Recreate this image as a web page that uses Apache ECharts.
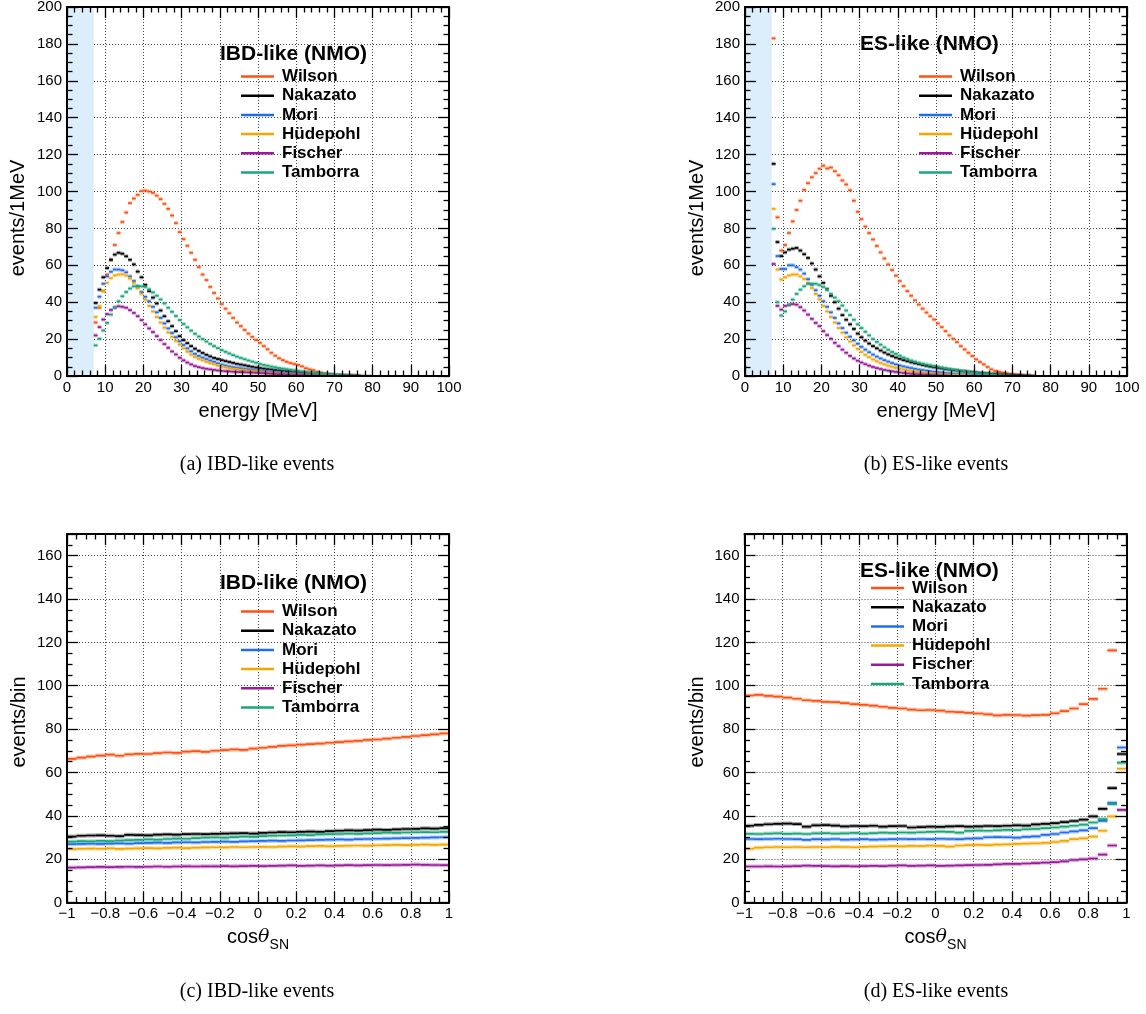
<!DOCTYPE html>
<html>
<head>
<meta charset="utf-8">
<title>SN event spectra</title>
<script src="https://cdn.jsdelivr.net/npm/echarts@6.0.0/dist/echarts.min.js"></script>
<style>
  html, body { margin: 0; padding: 0; background: #fff; }
  #main { width: 1146px; height: 1014px; }
</style>
</head>
<body>
<div id="main"></div>
<script>
const models = ['Wilson', 'Nakazato', 'Mori', 'Hüdepohl', 'Fischer', 'Tamborra'];
const modelColors = ['#ff5212', '#000000', '#1f6cf0', '#f5a700', '#9a1a9a', '#19a67a'];

// energy histograms: 1 MeV bins, first bin is 7-8 MeV
const energyFirstBin = 7;
const energyBinWidth = 1;
// direction histograms: 40 bins of 0.05 from -1 to 1
const cosFirstBin = -1;
const cosBinWidth = 0.05;

// (a) IBD-like, events/1MeV
const ibdEWilson = [29, 37, 46, 55, 63, 71, 77.5, 83.5, 88.6, 93.7,
  96.2, 98.2, 100.2, 100.5, 100, 99.3, 97.8, 95.9, 93.3, 90.6,
  87, 82.9, 78, 74.2, 70.6, 66.8, 63, 59, 55, 52,
  48.3, 45, 42, 39, 36.5, 34, 31.5, 29, 27, 25,
  23, 21.2, 19.5, 18, 16.2, 14.5, 12.6, 11, 9.6, 8.6,
  7.7, 7, 6.5, 6, 5.2, 4.2, 3.6, 3.1, 2.3, 1.8,
  1.3, 1.0, 0.7, 0.4, 0.3, 0.2, 0.1, 0.1, 0, 0, 0.1, 0, 0];
const ibdENakazato = [39.6, 46.8, 53.5, 58.5, 63, 65.8, 66.8, 66.3, 64.9, 63,
  60.5, 56.6, 53.5, 49.4, 46, 42.5, 39.3, 35.5, 32.4, 29.7,
  27, 24.3, 21.6, 19.5, 17.8, 16.2, 14.8, 13.6, 12.5, 11.5,
  10.6, 9.8, 9.2, 8.6, 8.1, 7.6, 7.1, 6.6, 6.2, 5.8,
  5.4, 5.0, 4.6, 4.3, 4.0, 3.7, 3.5, 3.2, 3.0, 2.8,
  2.6, 2.4, 2.2, 2.0, 1.8, 1.7, 1.5, 1.3, 1.2, 1.1,
  0.9, 0.8, 0.7, 0.6, 0.5, 0.4, 0.3, 0.3, 0.2, 0.1];
const ibdEMori = [37, 43, 50, 54, 56.5, 57.7, 57.7, 57.3, 56.2, 54,
  51.5, 48.5, 45.5, 42.9, 40.5, 37.5, 34.5, 31.5, 28.5, 25.8,
  23.3, 21, 18.8, 16.8, 15, 13.4, 12, 10.9, 10, 9.2,
  8.4, 7.7, 6.9, 6.2, 5.7, 5.2, 4.8, 4.5, 4.2, 3.9,
  3.7, 3.5, 3.2, 3.0, 2.8, 2.6, 2.4, 2.2, 2.0, 1.9,
  1.7, 1.6, 1.4, 1.3, 1.2, 1.1, 1.0, 0.9, 0.8, 0.7,
  0.6, 0.5, 0.4, 0.3, 0.2, 0.1];
const ibdEHuedepohl = [32, 37.8, 46, 50.5, 53, 54.5, 55, 55.1, 54.4, 52.8,
  50.5, 47.5, 44.5, 41.3, 38, 35, 32, 29, 26.2, 23.6,
  21.2, 19, 17, 15, 13.2, 11.6, 10.3, 9.3, 8.5, 7.7,
  7.0, 6.3, 5.6, 5.0, 4.6, 4.2, 3.9, 3.6, 3.3, 3.1,
  2.9, 2.8, 2.6, 2.3, 2.1, 1.9, 1.8, 1.6, 1.4, 1.3,
  1.1, 1.0, 0.9, 0.8, 0.7, 0.6, 0.5, 0.4, 0.4, 0.3,
  0.2, 0.2, 0.1, 0.1];
const ibdEFischer = [22, 26.5, 30.6, 33.5, 35.8, 37.2, 37.8, 37.5, 37, 35.7,
  34.2, 32.4, 30.3, 28, 25.8, 23.8, 21.6, 19.5, 17.3, 15.3,
  13.3, 11.7, 9.9, 8.5, 7.3, 6.3, 5.4, 4.8, 4.3, 3.9,
  3.6, 3.3, 3.0, 2.8, 2.6, 2.5, 2.3, 2.2, 2.1, 2.0,
  1.9, 1.8, 1.7, 1.6, 1.5, 1.3, 1.2, 1.1, 1.0, 0.9,
  0.8, 0.7, 0.6, 0.6, 0.5, 0.4, 0.4, 0.3, 0.3, 0.2,
  0.2, 0.1, 0.1];
const ibdETamborra = [16.6, 20.2, 24.7, 28.8, 33.3, 37, 40.5, 43.2, 45.5, 47.4,
  48.6, 48.8, 48.6, 48.3, 47, 45.3, 43.5, 41.5, 39.3, 37,
  34.8, 32.5, 30.3, 28.2, 26.4, 24.6, 22.9, 21.4, 20, 18.7,
  17.4, 16.2, 15.1, 14, 13.1, 12.2, 11.3, 10.5, 9.8, 9.1,
  8.4, 7.8, 7.2, 6.5, 6, 5.6, 5.1, 4.7, 4.3, 4.0,
  3.7, 3.4, 3.1, 2.8, 2.5, 2.3, 2.0, 1.8, 1.6, 1.3,
  1.1, 0.9, 0.7, 0.6, 0.4, 0.3, 0.2, 0.1, 0.1, 0];

// (b) ES-like, events/1MeV
const esEWilson = [183, 86, 68, 71, 77.5, 83.8, 90, 95, 100.9, 104.5,
  107.7, 110, 112.4, 114, 112.5, 113, 111, 108.8, 106, 103.8,
  100.7, 95, 89, 85, 81, 77.5, 74, 70.5, 67, 63.7,
  60.5, 57.4, 54.4, 51.5, 48.7, 46, 43.5, 41, 38.7, 36.5,
  34.4, 32.4, 30.6, 28.5, 26.5, 24.3, 22, 20.2, 18.4, 16.2,
  14.4, 12.6, 10.8, 9, 7.6, 6.3, 4.9, 3.6, 2.7, 2.3,
  1.8, 1.4, 1.1, 0.8, 0.5, 0.3, 0.2, 0.1];
const esENakazato = [115, 72.6, 65, 67, 68.5, 69, 69.4, 68, 66, 64,
  61, 57.7, 54, 50.5, 47, 43.5, 40, 36.5, 33, 30.5,
  28, 25.5, 23, 21, 19.2, 17.6, 16.2, 15, 13.8, 12.7,
  11.7, 10.8, 10, 9.3, 8.6, 8, 7.4, 6.9, 6.4, 5.9,
  5.5, 5.1, 4.7, 4.4, 4.1, 3.8, 3.5, 3.2, 3.0, 2.7,
  2.5, 2.3, 2.1, 1.9, 1.7, 1.5, 1.4, 1.2, 1.1, 0.9,
  0.8, 0.7, 0.6, 0.5, 0.4, 0.3, 0.2, 0.2, 0.1];
const esEMori = [104, 65, 58, 58, 60, 60, 59, 57.7, 55.5, 52.5,
  49.5, 46.5, 43.5, 40.5, 37.5, 34.5, 31.5, 28.5, 26, 23.5,
  21.3, 19.3, 17.5, 15.8, 14.3, 12.9, 11.6, 10.5, 9.5, 8.6,
  7.8, 7, 6.3, 5.7, 5.2, 4.7, 4.3, 3.9, 3.5, 3.2,
  2.9, 2.6, 2.3, 2.1, 1.9, 1.7, 1.5, 1.3, 1.1, 1,
  0.9, 0.8, 0.7, 0.6, 0.5, 0.4, 0.3, 0.2, 0.1];
const esEHuedepohl = [90.6, 57.7, 52.3, 53.5, 54.5, 55, 55, 54, 52.6, 50.5,
  47.7, 44.5, 41.5, 38, 35, 32, 29, 26, 23.5, 21,
  18.7, 16.6, 14.7, 13, 11.5, 10.2, 9, 8, 7.1, 6.3,
  5.6, 5, 4.4, 3.9, 3.5, 3.1, 2.7, 2.4, 2.1, 1.8,
  1.6, 1.4, 1.2, 1, 0.9, 0.8, 0.7, 0.6, 0.5, 0.4,
  0.3, 0.2, 0.1];
const esEFischer = [60.7, 38, 36, 38, 38.5, 39, 38.7, 37.3, 35.5, 33.3,
  31, 28.8, 27, 24.3, 22.2, 20.2, 18, 16.2, 14.3, 12.6,
  10.9, 9.5, 8.3, 7.3, 6.4, 5.6, 4.9, 4.3, 3.8, 3.3,
  2.9, 2.5, 2.2, 1.9, 1.6, 1.4, 1.2, 1.0, 0.9, 0.8,
  0.7, 0.6, 0.5, 0.4, 0.3, 0.2, 0.1];
const esETamborra = [79.8, 40, 32.8, 35, 38.7, 41.4, 44.5, 46.8, 48.6, 49.9,
  50, 50, 49.3, 48.3, 46.8, 44.5, 42.5, 40.5, 38.2, 35.5,
  33, 30.5, 28, 26, 24, 22, 20, 18.5, 17, 15.5,
  14.2, 13, 12, 11, 10, 9.2, 8.4, 7.8, 7.2, 6.7,
  6.2, 5.8, 5.4, 5, 4.6, 4.2, 3.8, 3.5, 3.2, 2.9,
  2.6, 2.3, 2.0, 1.7, 1.5, 1.3, 1.1, 0.9, 0.7, 0.5,
  0.4, 0.3, 0.2, 0.1];

// (c) IBD-like, events/bin vs cos(theta_SN)
const ibdCWilson = [66.3, 66.8, 67.3, 67.8, 68.2, 67.7, 68.3, 68.6, 68.5, 68.9,
  69.2, 69.0, 69.6, 69.8, 69.5, 70.0, 70.3, 70.6, 70.4, 71.0,
  71.4, 71.8, 72.3, 72.5, 72.8, 73.1, 73.3, 73.7, 74.0, 74.3,
  74.6, 75.0, 75.2, 75.6, 76.0, 76.4, 76.8, 77.2, 77.6, 78.0];
const ibdCNakazato = [30.4, 30.8, 30.9, 31.0, 30.8, 30.6, 31.2, 31.1, 31.0, 31.3,
  31.4, 31.3, 31.5, 31.6, 31.5, 31.7, 31.8, 31.9, 32.0, 31.8,
  32.1, 32.3, 32.5, 32.4, 32.6, 32.7, 32.6, 32.9, 33.1, 33.3,
  33.2, 33.4, 33.6, 33.5, 33.7, 33.9, 34.0, 34.2, 34.1, 34.3];
const ibdCMori = [26.9, 27.0, 27.1, 27.0, 27.2, 27.3, 27.2, 27.4, 27.5, 27.6,
  27.5, 27.7, 27.8, 27.7, 27.9, 28.0, 28.1, 28.0, 28.2, 28.3,
  28.4, 28.5, 28.4, 28.6, 28.7, 28.8, 28.9, 29.0, 29.1, 29.0,
  29.2, 29.3, 29.4, 29.5, 29.6, 29.7, 29.8, 29.9, 30.0, 30.1];
const ibdCHuedepohl = [24.6, 24.8, 24.9, 24.8, 25.0, 24.7, 24.9, 25.0, 25.1, 25.0,
  25.2, 25.3, 25.1, 25.3, 25.4, 25.5, 25.4, 25.6, 25.5, 25.6,
  25.7, 25.6, 25.8, 25.9, 25.8, 26.0, 26.1, 25.9, 26.1, 26.2,
  26.3, 26.2, 26.4, 26.5, 26.6, 26.5, 26.6, 26.7, 26.6, 26.7];
const ibdCFischer = [16.1, 16.2, 16.3, 16.4, 16.3, 16.4, 16.5, 16.4, 16.5, 16.6,
  16.5, 16.6, 16.7, 16.6, 16.7, 16.7, 16.8, 16.7, 16.8, 16.9,
  16.8, 16.9, 17.0, 17.1, 16.9, 17.0, 17.1, 17.0, 17.1, 17.2,
  17.1, 17.2, 17.3, 17.2, 17.3, 17.4, 17.5, 17.4, 17.3, 17.2];
const ibdCTamborra = [28.1, 28.3, 28.2, 28.4, 28.3, 28.6, 28.8, 28.9, 29.1, 29.0,
  29.3, 29.5, 29.4, 29.7, 29.9, 30.0, 29.9, 30.2, 30.4, 30.3,
  30.6, 30.8, 30.9, 31.0, 31.2, 31.1, 31.4, 31.5, 31.6, 31.8,
  31.7, 31.9, 32.0, 32.2, 32.1, 32.3, 32.4, 32.5, 32.4, 32.6];

// (d) ES-like, events/bin vs cos(theta_SN)
const esCWilson = [95.5, 95.8, 95.3, 95.0, 94.5, 94.0, 93.3, 93.0, 92.6, 92.4,
  92.0, 91.5, 91.2, 90.8, 90.3, 89.8, 89.5, 89.0, 88.7, 88.8,
  88.5, 88.0, 87.8, 87.5, 87.2, 86.8, 86.3, 86.6, 86.5, 86.2,
  86.4, 86.6, 87.3, 88.3, 89.5, 91.5, 93.9, 98.6, 116.3, 190];
const esCNakazato = [35.4, 35.8, 36.1, 36.3, 36.4, 36.2, 35.0, 35.6, 35.7, 35.5,
  35.1, 35.3, 35.2, 35.4, 35.0, 35.2, 35.3, 34.6, 34.8, 35.0,
  34.9, 35.1, 35.2, 35.0, 35.1, 35.3, 35.2, 35.4, 35.6, 35.5,
  36.0, 36.3, 36.6, 37.1, 37.6, 38.2, 39.7, 43.2, 52.8, 68.5];
const esCMori = [29.3, 29.2, 29.3, 29.4, 29.3, 29.2, 28.9, 29.2, 29.1, 29.3,
  29.0, 29.1, 29.2, 29.0, 29.1, 29.2, 29.3, 29.2, 29.3, 29.2,
  29.4, 29.3, 29.2, 29.5, 29.6, 30.1, 30.2, 30.1, 29.9, 30.3,
  30.5, 31.2, 31.6, 32.3, 32.8, 33.3, 34.3, 37.7, 46, 71.5];
const esCHuedepohl = [24.8, 25.3, 25.5, 25.6, 25.5, 25.6, 25.5, 25.6, 25.5, 25.7,
  25.6, 25.5, 25.7, 25.8, 25.9, 26.0, 25.9, 26.1, 26.0, 26.2,
  26.1, 25.8, 26.3, 26.5, 26.6, 26.5, 26.7, 26.8, 27.0, 27.2,
  27.3, 27.5, 27.9, 28.4, 29.2, 29.6, 30.4, 33.1, 39.7, 61.7];
const esCFischer = [16.6, 16.6, 16.7, 16.6, 16.7, 16.8, 17.0, 16.9, 16.8, 16.7,
  16.8, 16.7, 16.8, 16.9, 16.8, 17.0, 17.1, 16.9, 17.0, 17.1,
  16.9, 17.0, 17.1, 17.2, 17.3, 17.4, 17.6, 17.8, 17.8, 18.0,
  18.2, 18.4, 18.6, 19.0, 19.6, 19.9, 20.3, 22.1, 26.3, 42.7];
const esCTamborra = [31.7, 31.6, 31.8, 31.9, 31.7, 31.8, 31.6, 31.9, 32.0, 31.8,
  31.9, 32.1, 31.8, 32.0, 32.2, 32.1, 32.3, 32.2, 32.4, 32.6,
  32.7, 32.6, 32.2, 33.0, 33.2, 33.1, 33.3, 33.5, 33.4, 33.8,
  34.0, 34.3, 34.6, 35.0, 35.4, 35.9, 36.9, 38.5, 45.4, 64.5];

const sans = '"Liberation Sans", Arial, Helvetica, sans-serif';
const serif = '"Liberation Serif", "Times New Roman", serif';

const frameLine = { color: '#000', width: 2 };
const tickLine = { color: '#000', width: 1.3 };
const gridDots = { color: '#444', width: 1, type: [1, 2] };

// grid boxes
const boxes = [
  { left: 67, top: 7, width: 382, height: 369 },
  { left: 745, top: 7, width: 382, height: 369 },
  { left: 67, top: 534, width: 382, height: 368.5 },
  { left: 744.5, top: 534, width: 382, height: 368.5 }
];

const minusSign = v => String(v).replace('-', '\u2212');

const energyAxis = {
  min: 0, max: 100, interval: 10, minor: 5, margin: 4,
  name: 'energy [MeV]', nameGap: 25,
  nameStyle: { fontFamily: sans, fontSize: 20, color: '#000' },
  fmt: v => String(v)
};
const cosAxis = {
  min: -1, max: 1, interval: 0.2, minor: 4, margin: 4,
  name: '{a|cos}{b|θ}{c|SN}', nameGap: 20,
  nameStyle: {
    color: '#000',
    rich: {
      a: { fontFamily: sans, fontSize: 20, lineHeight: 30, color: '#000' },
      b: { fontFamily: '"DejaVu Serif", serif', fontStyle: 'italic', fontSize: 19, lineHeight: 30, color: '#000' },
      c: { fontFamily: sans, fontSize: 14, verticalAlign: 'bottom', color: '#000' }
    }
  },
  fmt: minusSign
};
const eventsAxis = {
  min: 0, max: 200, interval: 20, minor: 4, margin: 5,
  fmt: v => String(v)
};
const binAxis = {
  min: 0, max: 170, interval: 20, minor: 4, margin: 5,
  fmt: v => (v > 160 ? '' : String(v))
};

// each grid gets: labelled axis, mirrored tick axis, and a low-z axis for the dotted grid
function axisSet(dim, g, s) {
  const common = { gridIndex: g, type: 'value', min: s.min, max: s.max, interval: s.interval };
  const ticks = {
    z: 5,
    axisLine: { show: true, onZero: false, lineStyle: frameLine },
    axisTick: { show: true, inside: true, length: 11, lineStyle: tickLine },
    minorTick: { show: true, splitNumber: s.minor, length: 5.5, lineStyle: tickLine },
    splitLine: { show: false },
    minorSplitLine: { show: false }
  };
  const near = dim === 'x' ? 'bottom' : 'left';
  const far = dim === 'x' ? 'top' : 'right';
  const main = Object.assign({}, common, ticks, {
    position: near,
    axisLabel: {
      show: true, margin: s.margin, color: '#000', fontFamily: sans, fontSize: 15,
      formatter: s.fmt, hideOverlap: false, showMinLabel: true, showMaxLabel: true
    }
  });
  if (s.name) {
    Object.assign(main, { name: s.name, nameLocation: 'middle', nameGap: s.nameGap, nameTextStyle: s.nameStyle });
  }
  return [
    main,
    Object.assign({}, common, ticks, { position: far, axisLabel: { show: false } }),
    Object.assign({}, common, {
      position: near, z: 0,
      axisLine: { show: false }, axisTick: { show: false }, axisLabel: { show: false },
      splitLine: { show: true, lineStyle: gridDots }
    })
  ];
}

const panels = [
  { x: energyAxis, y: eventsAxis, first: energyFirstBin, width: energyBinWidth, shade: true,
    data: [ibdEWilson, ibdENakazato, ibdEMori, ibdEHuedepohl, ibdEFischer, ibdETamborra] },
  { x: energyAxis, y: eventsAxis, first: energyFirstBin, width: energyBinWidth, shade: true,
    data: [esEWilson, esENakazato, esEMori, esEHuedepohl, esEFischer, esETamborra] },
  { x: cosAxis, y: binAxis, first: cosFirstBin, width: cosBinWidth, shade: false,
    data: [ibdCWilson, ibdCNakazato, ibdCMori, ibdCHuedepohl, ibdCFischer, ibdCTamborra] },
  { x: cosAxis, y: binAxis, first: cosFirstBin, width: cosBinWidth, shade: false,
    data: [esCWilson, esCNakazato, esCMori, esCHuedepohl, esCFischer, esCTamborra] }
];

// one short horizontal segment per histogram bin
function renderBin(params, api) {
  const y = api.value(2);
  const a = api.coord([api.value(0), y]);
  const b = api.coord([api.value(1), y]);
  const color = api.visual('color');
  return {
    type: 'group',
    children: [
      { type: 'rect', shape: { x: a[0], y: a[1] - 2, width: b[0] - a[0], height: 4 },
        style: { fill: color, opacity: 0.35 } },
      { type: 'line', shape: { x1: a[0], y1: a[1], x2: b[0], y2: b[1] },
        style: { stroke: color, lineWidth: 1.7 } }
    ]
  };
}

const xAxis = [];
const yAxis = [];
const series = [];
panels.forEach((p, g) => {
  xAxis.push(...axisSet('x', g, p.x));
  yAxis.push(...axisSet('y', g, p.y));
  p.data.forEach((vals, k) => {
    const s = {
      type: 'custom',
      name: models[k],
      xAxisIndex: g * 3,
      yAxisIndex: g * 3,
      clip: true,
      itemStyle: { color: modelColors[k] },
      renderItem: renderBin,
      encode: { x: [0, 1], y: 2 },
      data: vals.map((v, i) => {
        const lo = Math.round((p.first + i * p.width) * 1000) / 1000;
        const hi = Math.round((p.first + (i + 1) * p.width) * 1000) / 1000;
        return [lo, hi, v];
      })
    };
    if (k === 0 && p.shade) {
      s.markArea = {
        silent: true,
        itemStyle: { color: '#dcedfb' },
        data: [[{ xAxis: 0 }, { xAxis: 7 }]]
      };
    }
    series.push(s);
  });
});

const legendAt = [[241, 67], [919, 67], [241, 602], [871, 578.5]];
const legend = legendAt.map(([l, t]) => ({
  orient: 'vertical', left: l, top: t, padding: 0,
  itemGap: 0.2, itemWidth: 33, itemHeight: 2.5, icon: 'rect',
  selectedMode: false, data: models,
  textStyle: { fontFamily: sans, fontWeight: 'bold', fontSize: 17, lineHeight: 19, color: '#000', padding: [0, 0, 0, 3] }
}));

function label(text, x, y, font, align, rotation) {
  return {
    type: 'text', x: x, y: y, rotation: rotation || 0, silent: true,
    style: { text: text, font: font, fill: '#000', align: align, verticalAlign: 'middle',
      textAlign: align, textVerticalAlign: 'middle' }
  };
}
const headFont = 'bold 21px ' + sans;
const titleFont = '20px ' + sans;
const captionFont = '20px ' + serif;
const up = Math.PI / 2;

const chart = echarts.init(document.getElementById('main'), null, { renderer: 'canvas' });
chart.setOption({
  animation: false,
  backgroundColor: '#fff',
  grid: boxes.map(b => Object.assign({ containLabel: false, outerBoundsMode: 'none' }, b)),
  xAxis: xAxis,
  yAxis: yAxis,
  legend: legend,
  series: series,
  graphic: [
    label('events/1MeV', 18, 218, titleFont, 'center', up),
    label('events/1MeV', 697, 218, titleFont, 'center', up),
    label('events/bin', 19, 722, titleFont, 'center', up),
    label('events/bin', 697, 722, titleFont, 'center', up),
    label('IBD-like (NMO)', 220, 54, headFont, 'left'),
    label('ES-like (NMO)', 860, 44, headFont, 'left'),
    label('IBD-like (NMO)', 220, 583, headFont, 'left'),
    label('ES-like (NMO)', 860, 571.5, headFont, 'left'),
    label('(a) IBD-like events', 257, 465, captionFont, 'center'),
    label('(b) ES-like events', 936, 465, captionFont, 'center'),
    label('(c) IBD-like events', 257, 992, captionFont, 'center'),
    label('(d) ES-like events', 936, 992, captionFont, 'center')
  ]
});
</script>
</body>
</html>
